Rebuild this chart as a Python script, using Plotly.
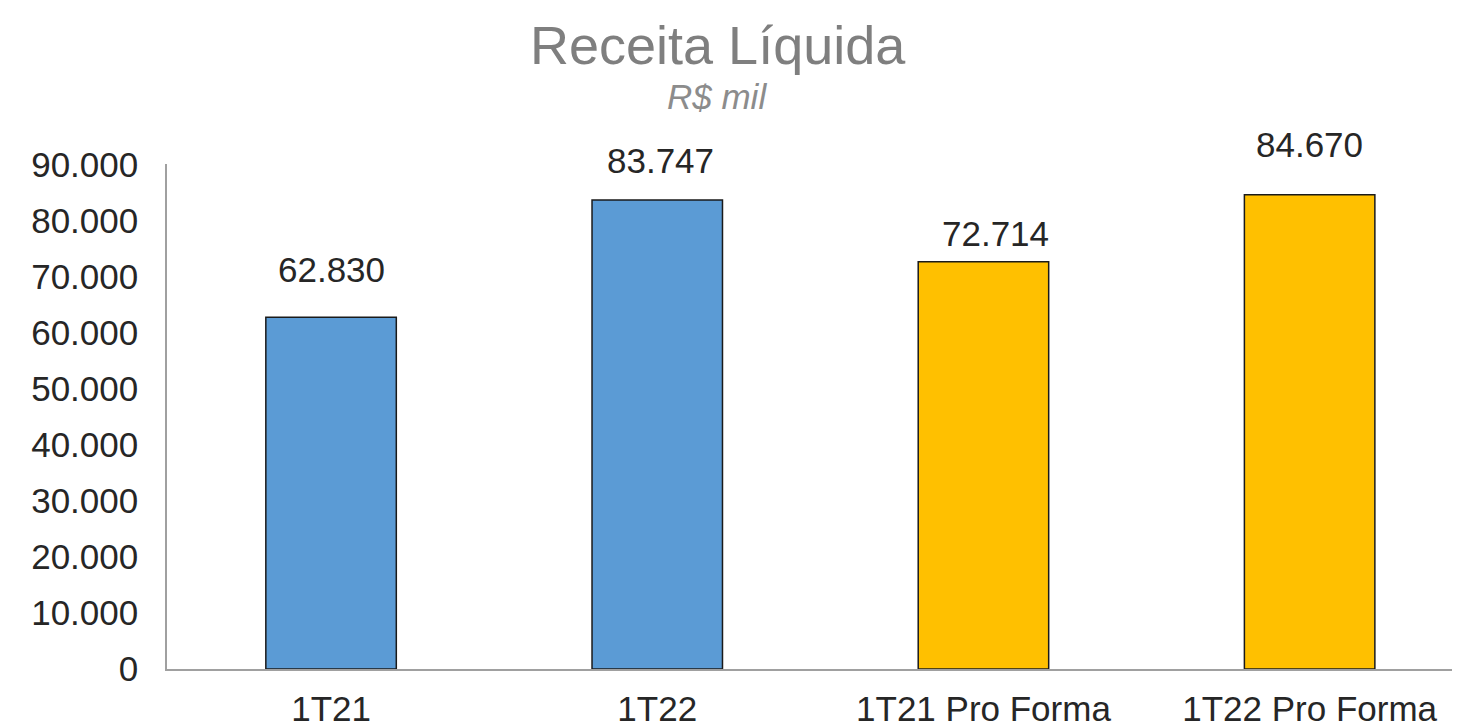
import plotly.graph_objects as go

categories = ["1T21", "1T22", "1T21 Pro Forma", "1T22 Pro Forma"]
values = [62830, 83747, 72714, 84670]
bar_colors = ["#5B9BD5", "#5B9BD5", "#FFC000", "#FFC000"]
tick_vals = [0, 10000, 20000, 30000, 40000, 50000, 60000, 70000, 80000, 90000]
tick_text = ["0", "10.000", "20.000", "30.000", "40.000", "50.000", "60.000", "70.000", "80.000", "90.000"]
value_labels = ["62.830", "83.747", "72.714", "84.670"]

# styling: label offsets in px (as placed in the original)
label_dy = [48, 40, 28, 50]
label_dx = [0, 3, 12, 0]

FONT = "Arial, Liberation Sans, sans-serif"

# page body has an 8px margin; compensate so the chart fills the window
W, H = 1452, 719
ML, MR, MT, MB = 159, 0, 156, 58
plot_h = H - MT - MB

fig = go.Figure()
fig.add_trace(go.Bar(
    x=categories, y=values,
    marker=dict(color=bar_colors, line=dict(color="#1a1a1a", width=1.5)),
    width=0.40,
    hoverinfo="skip",
))

for c, v, t, dy, dx in zip(categories, values, value_labels, label_dy, label_dx):
    fig.add_annotation(x=c, y=v, text=t, showarrow=False, yanchor="middle",
                       xanchor="center", yshift=dy, xshift=dx,
                       font=dict(family=FONT, size=35, color="#262626"))

# title and subtitle
fig.add_annotation(xref="paper", yref="paper", x=0.4265, y=1 + (164 - 45) / plot_h,
                   text="Receita Líquida", showarrow=False,
                   xanchor="center", yanchor="middle",
                   font=dict(family=FONT, size=54, color="#7f7f7f"))
fig.add_annotation(xref="paper", yref="paper", x=0.4257, y=1 + (164 - 97) / plot_h,
                   text="<i>R$ mil</i>", showarrow=False,
                   xanchor="center", yanchor="middle",
                   font=dict(family=FONT, size=35, color="#8c8c8c"))

fig.update_layout(
    width=W, height=H,
    margin=dict(l=ML, r=MR, t=MT, b=MB),
    paper_bgcolor="white", plot_bgcolor="white",
    showlegend=False,
    font=dict(family=FONT, size=35, color="#262626"),
)
fig.update_xaxes(
    type="category", range=[-0.503, 3.461],
    showline=True, linecolor="#a0a0a0", linewidth=1.5,
    showgrid=False, ticks="", tickfont=dict(family=FONT, size=35, color="#262626"),
    ticklabelstandoff=8,
)
fig.update_yaxes(
    range=[0, 90180], tickvals=tick_vals, ticktext=tick_text,
    showline=True, linecolor="#a0a0a0", linewidth=1.5,
    showgrid=False, ticks="", zeroline=False,
    tickfont=dict(family=FONT, size=35, color="#262626"),
    ticklabelstandoff=20,
)

fig.write_html("out.html")
